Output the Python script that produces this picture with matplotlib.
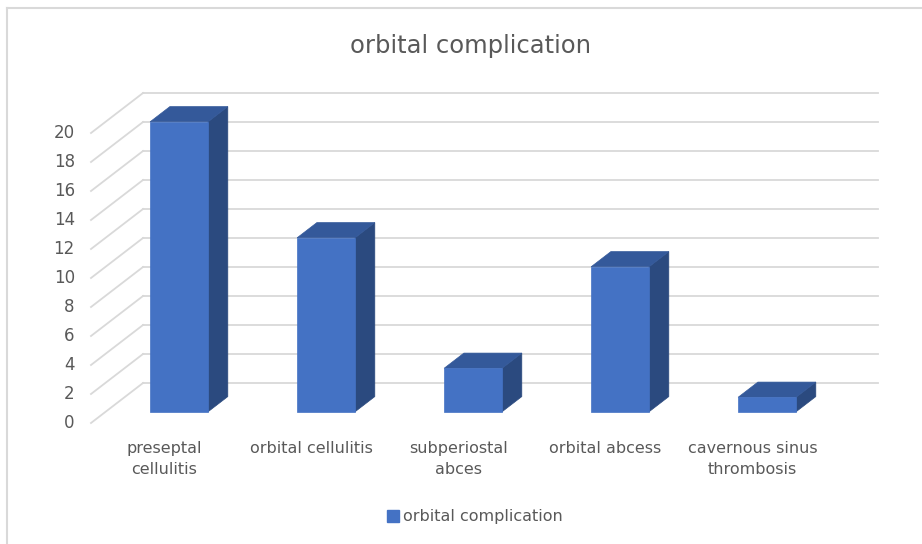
"""Excel-style 3D column chart: orbital complication counts."""

import matplotlib
matplotlib.use("Agg")
import matplotlib.pyplot as plt
from matplotlib.patches import Polygon
from matplotlib.lines import Line2D

# --- data ------------------------------------------------------------------
categories = [
    "preseptal\ncellulitis",
    "orbital cellulitis",
    "subperiostal\nabces",
    "orbital abcess",
    "cavernous sinus\nthrombosis",
]
counts = [20, 12, 3, 10, 1]
y_ticks = list(range(0, 21, 2))
series_name = "orbital complication"

# --- style -----------------------------------------------------------------
FRONT = "#4472C4"
TOP = "#34599A"
SIDE = "#2B4A7F"
GRID = "#D9D9D9"
TEXT = "#595959"

# oblique depth vector (data units) and bar placement inside the depth
DX, DY = 0.354, 2.76
F0, F1 = 0.28, 0.66
HALF_W = 0.197

W, H = 922, 544
fig = plt.figure(figsize=(W / 100, H / 100), dpi=100)
# front plane: x -0.5..4.5 -> px 91..826, y 0..20 -> px 423..133
ax = fig.add_axes([91 / W, 1 - 423 / H, 735 / W, 290 / H])
ax.set_xlim(-0.5, 4.5)
ax.set_ylim(0, 20)
ax.axis("off")

# back wall gridlines + left wall diagonals
for t in y_ticks:
    ax.plot([-0.5 + DX, 4.5 + DX], [t + DY, t + DY], color=GRID,
            lw=1.3, clip_on=False, zorder=1)
    ax.plot([-0.5, -0.5 + DX], [t, t + DY], color=GRID,
            lw=1.3, clip_on=False, zorder=1)
    ax.text(-0.61, t, str(t), ha="right", va="center", fontsize=12,
            color=TEXT)

# bars: front face, top, right side
for i, v in enumerate(counts):
    xl, xr = i - HALF_W, i + HALF_W
    front = Polygon([(xl + F0 * DX, F0 * DY), (xr + F0 * DX, F0 * DY),
                     (xr + F0 * DX, v + F0 * DY), (xl + F0 * DX, v + F0 * DY)],
                    closed=True, fc=FRONT, ec=FRONT, lw=0.5, clip_on=False, zorder=3)
    top = Polygon([(xl + F0 * DX, v + F0 * DY), (xr + F0 * DX, v + F0 * DY),
                   (xr + F1 * DX, v + F1 * DY), (xl + F1 * DX, v + F1 * DY)],
                  closed=True, fc=TOP, ec=TOP, lw=0.5, clip_on=False, zorder=3)
    side = Polygon([(xr + F0 * DX, F0 * DY), (xr + F1 * DX, F1 * DY),
                    (xr + F1 * DX, v + F1 * DY), (xr + F0 * DX, v + F0 * DY)],
                   closed=True, fc=SIDE, ec=SIDE, lw=0.5, clip_on=False, zorder=3)
    for p in (side, top, front):
        ax.add_patch(p)
    ax.text(i, -1.25, categories[i], ha="center", va="top", fontsize=11.5,
            color=TEXT, linespacing=1.5)

fig.text(470 / W, 1 - 46 / H, "orbital complication", ha="center",
         va="center", fontsize=17.5, color=TEXT)

handle = Line2D([], [], marker="s", ls="", color=FRONT, markersize=8)
fig.legend([handle], [series_name], loc="center", bbox_to_anchor=(474 / W, 1 - 517 / H),
           frameon=False, fontsize=11.5, labelcolor=TEXT, handletextpad=0.1,
           handlelength=1.0)

# chart area border (top and left visible in the reference)
fig.add_artist(Line2D([7 / W, 7 / W], [0, 1 - 8 / H], color=GRID, lw=1.5))
fig.add_artist(Line2D([7 / W, 1], [1 - 8 / H, 1 - 8 / H], color=GRID, lw=1.5))

fig.savefig("out.png", dpi=100)
